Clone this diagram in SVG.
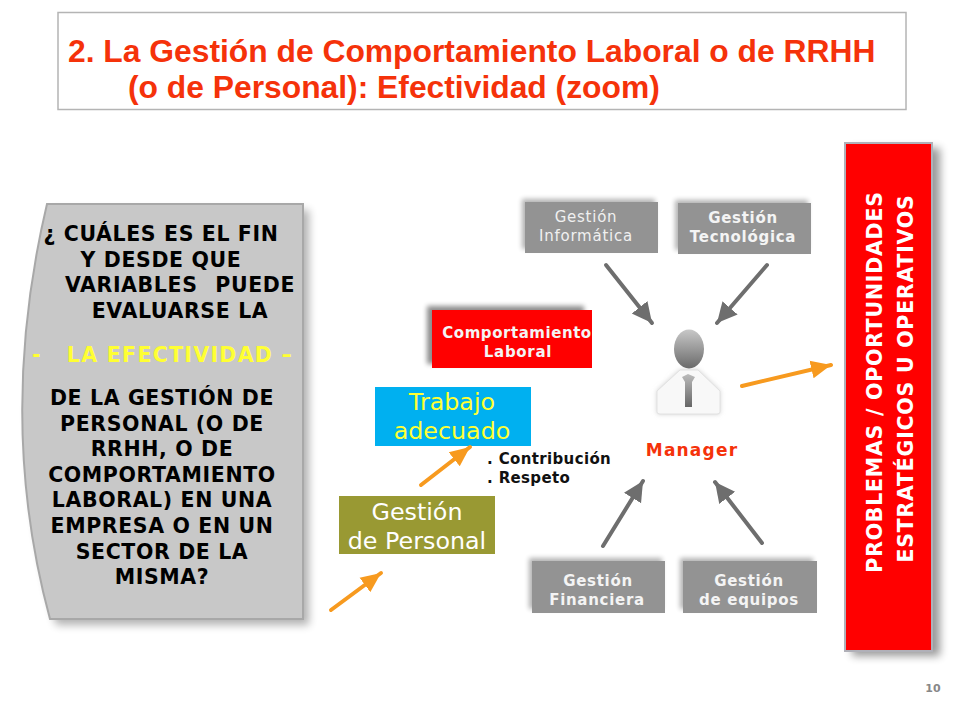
<svg xmlns="http://www.w3.org/2000/svg" width="960" height="720" viewBox="0 0 960 720">
<style>
text{font-family:"DejaVu Sans",Verdana,sans-serif;text-anchor:middle}
.t{font-family:"Liberation Sans",Arial,sans-serif;font-weight:bold;font-size:31.800px;fill:#f5320a;text-anchor:start}
.q{font-weight:bold;font-size:20.500px;letter-spacing:.62px;fill:#000}
.y{fill:#ffff33;letter-spacing:1.300px}
.box{font-size:15px;fill:#f4f4f4;font-weight:bold;letter-spacing:.7px}
.thin{font-size:15px;fill:#f0f0f0;letter-spacing:.75px}
.s{font-size:23.800px}
.side{font-size:20.500px;font-weight:bold;fill:#fff;letter-spacing:.75px}
.note{font-size:15px;font-weight:bold;fill:#111;letter-spacing:.36px;text-anchor:start}
.or{fill:none;stroke:#f79a1f;stroke-width:4;stroke-linecap:round}
.gr{fill:none;stroke:#6e6e6e;stroke-width:4;stroke-linecap:round}
</style>
<defs>
<filter id="sh" x="-30%" y="-20%" width="160%" height="140%"><feGaussianBlur stdDeviation="4"/></filter>
<filter id="soft" x="-30%" y="-30%" width="160%" height="160%"><feGaussianBlur stdDeviation="2.500"/></filter>
<marker id="ao" markerUnits="userSpaceOnUse" markerWidth="24" markerHeight="24" refX="20" refY="10" orient="auto"><path d="M0 1L20 10L0 19Z" fill="#f79a1f"/></marker>
<marker id="ag" markerUnits="userSpaceOnUse" markerWidth="24" markerHeight="24" refX="20" refY="10" orient="auto"><path d="M0 0L20 10L0 20Z" fill="#6e6e6e"/></marker>
<linearGradient id="head" x1="0" y1="0" x2="0" y2="1"><stop offset="0" stop-color="#c8c8c8"/><stop offset="1" stop-color="#6a6a6a"/></linearGradient>
<linearGradient id="tie" x1="0" y1="0" x2="0" y2="1"><stop offset="0" stop-color="#bbb"/><stop offset="1" stop-color="#666"/></linearGradient>
</defs>
<rect width="960" height="720" fill="#fff"/>

<g id="title">
<rect x="58" y="12.500" width="848" height="97" fill="#fff" stroke="#b4b4b4" stroke-width="1.500"/>
<text class="t" x="68" y="62">2. La Gestión de Comportamiento Laboral o de RRHH</text>
<text class="t" x="128" y="98">(o de Personal): Efectividad (zoom)</text>
</g>

<g id="question">
<path d="M47 204H303V619H50Q-4 420 47 204Z" fill="#000" opacity=".3" filter="url(#sh)" transform="translate(6,6)"/>
<path d="M47 204H303V619H50Q-4 420 47 204Z" fill="#c8c8c8" stroke="#a8a8a8" stroke-width="2"/>
<text class="q" x="161" y="241">¿ CUÁLES ES EL FIN</text>
<text class="q" x="161" y="267">Y DESDE QUE</text>
<text class="q" x="180" y="292" style="word-spacing:10px">VARIABLES PUEDE</text>
<text class="q" x="180" y="318">EVALUARSE LA</text>
<text class="q y" x="180" y="362">LA EFECTIVIDAD –</text>
<text class="q y" x="37" y="362">-</text>
<text class="q" x="162" y="405">DE LA GESTIÓN DE</text>
<text class="q" x="162" y="431">PERSONAL (O DE</text>
<text class="q" x="162" y="456">RRHH, O DE</text>
<text class="q" x="162" y="482">COMPORTAMIENTO</text>
<text class="q" x="162" y="507">LABORAL) EN UNA</text>
<text class="q" x="162" y="533">EMPRESA O EN UN</text>
<text class="q" x="162" y="559">SECTOR DE LA</text>
<text class="q" x="162" y="584">MISMA?</text>
</g>

<g id="informatica">
<rect x="522" y="199" width="133" height="50" fill="#000" opacity=".3" filter="url(#soft)"/>
<rect x="525" y="202" width="133" height="51" fill="#939393"/>
<text class="thin" x="586" y="222">Gestión</text>
<text class="thin" x="586" y="241">Informática</text>
</g>
<g id="tecnologica">
<rect x="675" y="200" width="133" height="50" fill="#000" opacity=".3" filter="url(#soft)"/>
<rect x="678" y="203" width="133" height="51" fill="#939393"/>
<text class="box" x="743" y="223">Gestión</text>
<text class="box" x="743" y="242">Tecnológica</text>
</g>
<g id="comportamiento">
<rect x="427" y="306" width="157" height="58" fill="#000" opacity=".45" filter="url(#soft)"/>
<rect x="432" y="310" width="160" height="58" fill="#ff0000"/>
<text class="box" x="517" y="338" style="letter-spacing:.55px">Comportamiento</text>
<text class="box" x="518" y="357">Laboral</text>
</g>
<g id="trabajo">
<rect x="375" y="387" width="156" height="59" fill="#00b0f0"/>
<text class="s" x="452" y="410" fill="#ffff33">Trabajo</text>
<text class="s" x="452" y="439" fill="#ffff33">adecuado</text>
</g>
<g id="personal">
<rect x="339" y="496" width="156" height="58" fill="#999933"/>
<text class="s" x="417" y="520" fill="#fff">Gestión</text>
<text class="s" x="417" y="549" fill="#fff">de Personal</text>
</g>
<g id="contrib">
<text class="note" x="487" y="464">. Contribución</text>
<text class="note" x="487" y="483">. Respeto</text>
</g>
<g id="manager">
<path d="M657 391L680 370H698L720 391V412Q720 414 717 414H660Q657 414 657 412Z" fill="#ccc" filter="url(#soft)"/>
<path d="M657 391L680 370H698L720 391V412Q720 414 717 414H660Q657 414 657 412Z" fill="#f8f8f8" stroke="#e2e2e2"/>
<ellipse cx="689" cy="349" rx="15" ry="19.500" fill="url(#head)"/>
<path d="M682 377L688 374L695 377L692 382V407H685V382Z" fill="url(#tie)"/>
<text x="692" y="456" font-size="17" font-weight="bold" fill="#f5320a" style="letter-spacing:1.200px">Manager</text>
</g>
<g id="financiera">
<rect x="529" y="558" width="133" height="51" fill="#000" opacity=".3" filter="url(#soft)"/>
<rect x="532" y="561" width="133" height="52" fill="#939393"/>
<text class="box" x="598" y="586">Gestión</text>
<text class="box" x="597" y="605">Financiera</text>
</g>
<g id="equipos">
<rect x="680" y="558" width="133" height="51" fill="#000" opacity=".3" filter="url(#soft)"/>
<rect x="683" y="561" width="134" height="52" fill="#939393"/>
<text class="box" x="749" y="586">Gestión</text>
<text class="box" x="749" y="605">de equipos</text>
</g>
<g id="problemas">
<rect x="846" y="144" width="88" height="508" fill="#000" opacity=".4" filter="url(#sh)" transform="translate(6,4)"/>
<rect x="845" y="143" width="87" height="508" fill="#ff0000" stroke="#b0b0b8" stroke-width="2"/>
<text class="side" transform="translate(882,382) rotate(-90)">PROBLEMAS / OPORTUNIDADES</text>
<text class="side" transform="translate(913,378.500) rotate(-90)">ESTRATÉGICOS U OPERATIVOS</text>
</g>
<g id="page"><text x="933" y="692" font-size="11" font-weight="bold" fill="#888">10</text></g>

<g id="connectors">
<line class="or" x1="331" y1="610" x2="381" y2="573" marker-end="url(#ao)"/>
<line class="or" x1="421" y1="485" x2="470" y2="447" marker-end="url(#ao)"/>
<line class="or" x1="742" y1="386" x2="831" y2="365" marker-end="url(#ao)"/>
<line class="gr" x1="606" y1="265" x2="652" y2="323" marker-end="url(#ag)"/>
<line class="gr" x1="767" y1="265" x2="717" y2="323" marker-end="url(#ag)"/>
<line class="gr" x1="603" y1="546" x2="643" y2="481" marker-end="url(#ag)"/>
<line class="gr" x1="762" y1="543" x2="715" y2="482" marker-end="url(#ag)"/>
</g>
</svg>
